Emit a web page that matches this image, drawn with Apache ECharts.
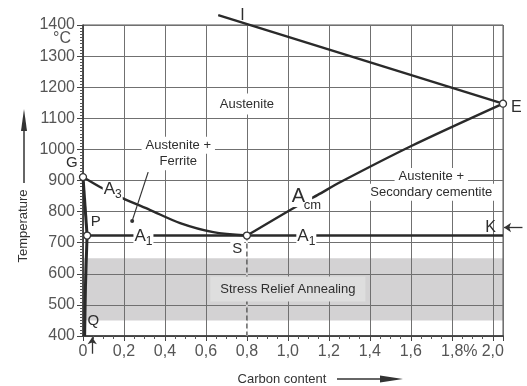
<!DOCTYPE html>
<html>
<head>
<meta charset="utf-8">
<script src="https://cdn.jsdelivr.net/npm/echarts@6/dist/echarts.min.js"></script>
<style>
  html, body { margin: 0; padding: 0; background: #fff; }
  #chart { width: 527px; height: 386px; }
</style>
</head>
<body>
<div id="chart"></div>
<script>
// Iron-carbon diagram, steel corner: temperature (°C) against carbon content (%)
const xTickLabels = ['0', '0,2', '0,4', '0,6', '0,8', '1,0', '1,2', '1,4', '1,6', '1,8%', '2,0'];
const tempMin = 400, tempMax = 1400, tempStep = 100;
const carbonMax = 2.05;

// phase boundaries [carbon %, °C]
const a3Line = [[0, 911], [0.083, 879], [0.19, 844], [0.328, 805], [0.474, 763], [0.636, 734], [0.8, 723]];
const acmLine = [[0.8, 723], [1.037, 815], [1.144, 853], [1.257, 895], [1.6, 1010], [2.05, 1147]];
const solidusLine = [[0.66, 1432], [2.05, 1147]];
const a1Line = [[0.02, 723], [2.05, 723]];
const gpLine = [[0, 911], [0.02, 723]];
const pqLine = [[0.02, 723], [0.012, 560], [0.008, 400]];
const eutectoidDrop = [[0.8, 723], [0.8, 400]];
const stressBand = [450, 650];

// named points
const pointG = [0, 911], pointP = [0.02, 723], pointS = [0.8, 723], pointE = [2.05, 1147];

const INK = '#2a2a2a';
const TXT = '#2e2e2e';
const GRID = '#707070';
const BAND = '#d3d2d3';

const chart = echarts.init(document.getElementById('chart'), null, { renderer: 'canvas' });

function phaseLine(data, extra) {
  return Object.assign({
    type: 'line', data: data, symbol: 'none', silent: true, clip: false, z: 3,
    lineStyle: { color: INK, width: 2.4 }
  }, extra || {});
}

const subRich = {
  a: { fontSize: 17, color: TXT, verticalAlign: 'top', fontFamily: 'Liberation Sans' },
  s: { fontSize: 12, color: TXT, verticalAlign: 'top', padding: [8, 0, 0, 0], fontFamily: 'Liberation Sans' }
};

function note(x, y, text, label) {
  return {
    value: [x, y],
    label: Object.assign({
      show: true, position: 'inside', formatter: text, color: TXT,
      fontSize: 13, fontFamily: 'Liberation Sans', rich: subRich
    }, label || {})
  };
}

const whiteBox = { backgroundColor: '#fff', padding: [2, 4] };

const notes = [
  note(0.80, 1146, 'Austenite', { backgroundColor: '#fff', padding: [4, 5] }),
  note(0.465, 1013, 'Austenite +', whiteBox),
  note(0.465, 960, 'Ferrite', whiteBox),
  note(1.70, 913, 'Austenite +', whiteBox),
  note(1.70, 862, 'Secondary cementite', whiteBox),
  note(1.0, 551, 'Stress Relief Annealing', { backgroundColor: '#dedede', padding: [6, 10] }),
  note(-0.054, 956, 'G', { fontSize: 15 }),
  note(0.062, 767, 'P', { fontSize: 15 }),
  note(0.05, 450, 'Q', { fontSize: 15 }),
  note(0.753, 680, 'S', { fontSize: 15, backgroundColor: '#fff', padding: [0, 2] }),
  note(2.115, 1135, 'E', { fontSize: 16 }),
  note(1.99, 749, 'K', { fontSize: 16 }),
  note(0.778, 1428, 'I', { fontSize: 15, fontFamily: 'DejaVu Sans' }),
  note(0.145, 866, '{a|A}{s|3}', { backgroundColor: '#fff', padding: [0, 1] }),
  note(0.295, 717, '{a|A}{s|1}', { backgroundColor: '#fff', padding: [0, 1] }),
  note(1.09, 716, '{a|A}{s|1}', { backgroundColor: '#fff', padding: [0, 1] }),
  note(1.064, 850, 'A', { fontSize: 20, backgroundColor: '#fff', padding: [1, 7, 1, 2] }),
  note(1.12, 821, 'cm', { fontSize: 13 })
];

const option = {
  backgroundColor: '#fff',
  animation: false,
  grid: { left: 83, right: 24, top: 25, bottom: 50, show: true, borderColor: '#555', borderWidth: 1, backgroundColor: 'transparent' },
  xAxis: {
    type: 'value', min: 0, max: carbonMax, interval: 0.2,
    axisLine: { show: true, lineStyle: { color: '#333', width: 1.5 } },
    axisTick: { show: true, length: 5, lineStyle: { color: '#444' } },
    minorTick: { show: true, splitNumber: 4, length: 3, lineStyle: { color: '#555' } },
    splitLine: { show: true, lineStyle: { color: GRID, width: 1 } },
    axisLabel: {
      color: '#555', fontSize: 16, fontFamily: 'Liberation Sans', margin: 8,
      showMaxLabel: false,
      formatter: function (v) {
        const i = Math.round(v / 0.2);
        if (Math.abs(v - i * 0.2) > 1e-6) return '';
        const t = xTickLabels[i] || '';
        return t.indexOf('%') >= 0 ? '{p|' + t + '}' : t;
      },
      rich: { p: { padding: [0, 0, 0, 15], fontSize: 16, color: '#555', fontFamily: 'Liberation Sans' } }
    }
  },
  yAxis: {
    type: 'value', min: tempMin, max: tempMax, interval: tempStep,
    axisLine: { show: true, lineStyle: { color: '#333', width: 1.5 } },
    axisTick: { show: true, length: 6, lineStyle: { color: '#444' } },
    minorTick: { show: true, splitNumber: 10, length: 3, lineStyle: { color: '#555' } },
    splitLine: { show: true, lineStyle: { color: GRID, width: 1 } },
    axisLabel: {
      color: '#555', fontSize: 16, fontFamily: 'Liberation Sans', margin: 8,
      formatter: function (v) { return String(v); }
    }
  },
  graphic: [
    { type: 'text', left: 53, top: 31, style: { text: '°C', fill: '#555', font: '16px "Liberation Sans"' } },
    { type: 'text', x: 23, y: 226, rotation: Math.PI / 2,
      style: { text: 'Temperature', fill: '#333', font: '13px "Liberation Sans"', align: 'center', verticalAlign: 'middle' } },
    { type: 'line', shape: { x1: 24, y1: 183, x2: 24, y2: 125 }, style: { stroke: '#333', lineWidth: 1.5 } },
    { type: 'polygon', shape: { points: [[24, 109], [21, 131], [27, 131]] }, style: { fill: '#333' } },
    { type: 'text', x: 282, y: 379,
      style: { text: 'Carbon content', fill: '#333', font: '13px "Liberation Sans"', align: 'center', verticalAlign: 'middle' } },
    { type: 'line', shape: { x1: 337, y1: 379, x2: 385, y2: 379 }, style: { stroke: '#333', lineWidth: 1.5 } },
    { type: 'polygon', shape: { points: [[403, 379], [380, 375.5], [380, 382.5]] }, style: { fill: '#333' } }
  ],
  series: [
    // stress relief annealing band, beneath the grid lines
    {
      type: 'custom', z: -1, silent: true, clip: false,
      data: [[0, stressBand[0], stressBand[1]]],
      renderItem: function (params, api) {
        const p1 = api.coord([0, api.value(2)]);
        const p2 = api.coord([carbonMax, api.value(1)]);
        return { type: 'rect', shape: { x: p1[0], y: p1[1], width: p2[0] - p1[0], height: p2[1] - p1[1] }, style: { fill: BAND } };
      }
    },
    // 0.8 % line below S: blank out the grid line, then dash it
    phaseLine([[0.8, 723], [0.8, stressBand[1]]], { z: 1, lineStyle: { color: '#fff', width: 2 } }),
    phaseLine([[0.8, stressBand[1]], [0.8, stressBand[0]]], { z: 1, lineStyle: { color: BAND, width: 2 } }),
    phaseLine([[0.8, stressBand[0]], [0.8, 400]], { z: 1, lineStyle: { color: '#fff', width: 2 } }),
    phaseLine(eutectoidDrop, { z: 2, lineStyle: { color: '#444', width: 1.2, type: [5, 3] } }),
    phaseLine(a1Line),
    phaseLine(a3Line, { smooth: 0.3 }),
    phaseLine(acmLine, { smooth: 0.3 }),
    phaseLine(solidusLine),
    phaseLine(gpLine, { lineStyle: { color: INK, width: 3 } }),
    phaseLine(pqLine, { smooth: 0.3, lineStyle: { color: INK, width: 3 } }),
    // leader from the Austenite + Ferrite label
    phaseLine([[0.318, 927], [0.24, 770]], { lineStyle: { color: '#333', width: 1.2 } }),
    {
      type: 'scatter', silent: true, clip: false, z: 6, symbol: 'circle', symbolSize: 4,
      itemStyle: { color: '#333', opacity: 1 }, data: [[0.24, 770]]
    },
    // arrows: K and the mark under 0
    {
      type: 'lines', coordinateSystem: 'cartesian2d', silent: true, clip: false, z: 6,
      symbol: ['none', 'arrow'], symbolSize: [0, 7],
      lineStyle: { color: '#333', width: 1.3, opacity: 1 },
      data: [
        { coords: [[2.145, 749], [2.055, 749]] },
        { coords: [[0.045, 343], [0.045, 396]] }
      ]
    },
    // named points
    {
      type: 'scatter', silent: true, clip: false, z: 7, symbol: 'circle', symbolSize: 7,
      itemStyle: { color: '#fff', borderColor: '#333', borderWidth: 1.3, opacity: 1 },
      data: [pointG, pointP, pointS, pointE]
    },
    // text annotations
    {
      type: 'scatter', silent: true, clip: false, z: 10, symbolSize: 0,
      itemStyle: { opacity: 1 },
      data: notes
    }
  ]
};

chart.setOption(option);
</script>
</body>
</html>
